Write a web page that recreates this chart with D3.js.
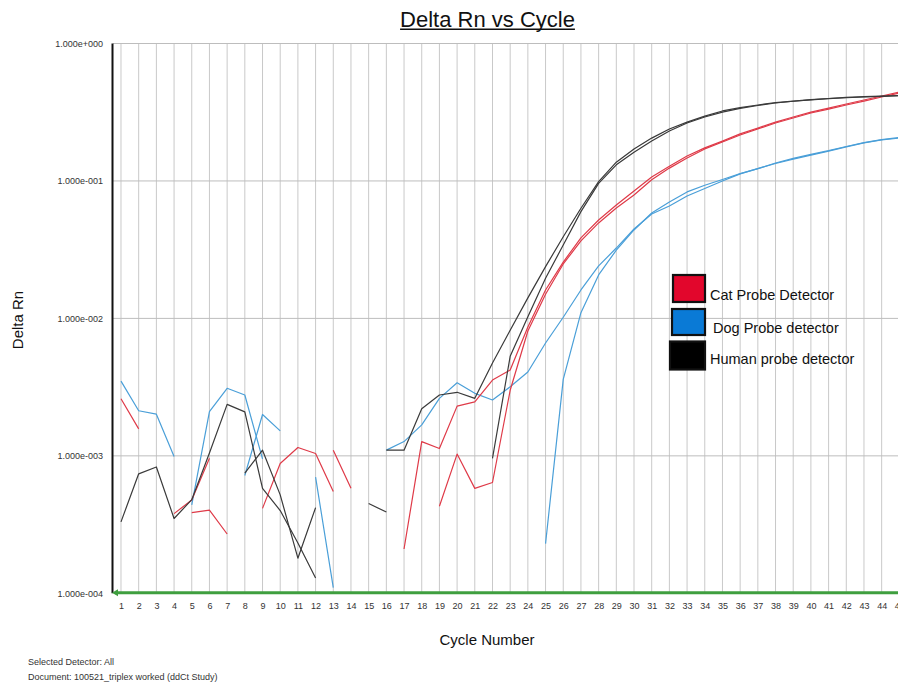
<!DOCTYPE html>
<html>
<head>
<meta charset="utf-8">
<script src="https://cdn.jsdelivr.net/npm/d3@7"></script>
<style>
  html, body { margin: 0; padding: 0; background: #fff; overflow: hidden; }
  svg { display: block; font-family: "Liberation Sans", Arial, sans-serif; }
</style>
</head>
<body>
<svg id="chart" width="898" height="688"></svg>
<script>
// ---- data: amplification plot, Delta Rn per cycle (null = not plottable on log axis)
const cycles = d3.range(1, 46);
const yTickValues = [1e-4, 1e-3, 1e-2, 1e-1, 1];
const yTickLabels = ["1.000e-004", "1.000e-003", "1.000e-002", "1.000e-001", "1.000e+000"];

const catProbe1 = [0.0026, 0.00157, null, 0.00038, 0.000477, 0.00096, null, null, 0.000415, 0.00088,
  0.00115, 0.00104, 0.00055, null, null, null, null, null, 0.00043, 0.00103,
  0.00058, 0.00064, 0.0030, 0.0081, 0.015, 0.0249, 0.0366, 0.0495, 0.0636, 0.079,
  0.102, 0.124, 0.147, 0.171, 0.192, 0.216, 0.239, 0.264, 0.287, 0.312,
  0.333, 0.357, 0.381, 0.408, 0.436];
const catProbe2 = [null, null, null, null, 0.000386, 0.000403, 0.00027, null, null, null,
  null, null, 0.0011, 0.00058, null, null, 0.00021, 0.00127, 0.00113, 0.0023,
  0.00247, 0.00356, 0.00421, 0.00866, 0.0161, 0.0257, 0.0385, 0.052, 0.0669, 0.0846,
  0.107, 0.128, 0.152, 0.174, 0.195, 0.220, 0.243, 0.268, 0.292, 0.317,
  0.339, 0.363, 0.388, 0.415, 0.443];
const dogProbe1 = [0.0035, 0.00213, 0.00201, 0.00099, null, null, null, 0.00072, 0.002, 0.00152,
  null, 0.0007, 0.00011, null, null, 0.0011, 0.00127, 0.00168, 0.00262, 0.0034,
  0.00285, 0.00255, 0.00318, 0.00407, 0.00662, 0.0102, 0.0161, 0.0241, 0.0325, 0.0447,
  0.0575, 0.0658, 0.0778, 0.0882, 0.1, 0.1125, 0.123, 0.134, 0.144, 0.154,
  0.165, 0.177, 0.189, 0.199, 0.205];
const dogProbe2 = [null, null, null, null, 0.00044, 0.0021, 0.0031, 0.00277, 0.00095, null,
  null, null, null, null, null, null, null, null, null, null,
  null, null, null, null, 0.00023, 0.0036, 0.011, 0.0207, 0.0314, 0.044,
  0.0585, 0.0704, 0.0832, 0.093, 0.1025, 0.113, 0.123, 0.135, 0.146, 0.156,
  0.166, 0.178, 0.19, 0.2, 0.207];
const humanProbe1 = [0.000331, 0.00074, 0.00083, 0.00035, 0.00048, 0.00105, 0.00237, 0.00209, 0.00058, 0.0004,
  0.000232, 0.000129, null, null, 0.00045, 0.00039, null, null, null, null,
  null, 0.00096, 0.0053, 0.0103, 0.0196, 0.0342, 0.0598, 0.096, 0.131, 0.162,
  0.195, 0.231, 0.264, 0.292, 0.317, 0.337, 0.354, 0.369, 0.38, 0.389,
  0.397, 0.403, 0.408, 0.413, 0.417];
const humanProbe2 = [null, null, null, null, null, null, null, 0.00075, 0.0011, 0.00052,
  0.00018, 0.00042, null, null, null, 0.0011, 0.0011, 0.0022, 0.00277, 0.0029,
  0.00262, 0.00474, 0.0082, 0.0141, 0.0238, 0.0393, 0.0633, 0.099, 0.137, 0.171,
  0.205, 0.239, 0.268, 0.296, 0.323, 0.342, 0.357, 0.372, 0.381, 0.391,
  0.398, 0.405, 0.41, 0.414, 0.418];

const legendLabels = ["Cat Probe Detector", "Dog Probe detector", "Human probe detector"];
const legendColors = ["#e2062c", "#0a7ad6", "#000000"];

const series = [
  { values: dogProbe1, color: "#4a9fd8" },
  { values: dogProbe2, color: "#4a9fd8" },
  { values: catProbe1, color: "#df3a48" },
  { values: catProbe2, color: "#df3a48" },
  { values: humanProbe1, color: "#3a3a3a" },
  { values: humanProbe2, color: "#3a3a3a" }
];

// ---- layout
const svg = d3.select("#chart");
const plotLeft = 113, plotTop = 43.5, plotBottom = 593.3;

const x = d3.scaleLinear().domain([0.548, 45.5]).range([plotLeft, plotLeft + 44.952 * 17.69]);
const y = d3.scaleLog().domain([1e-4, 1]).range([plotBottom, plotTop]);

svg.append("defs").append("clipPath").attr("id", "plotClip")
  .append("rect").attr("x", plotLeft).attr("y", plotTop - 1)
  .attr("width", 898 - plotLeft).attr("height", plotBottom - plotTop + 2);

// title
const title = svg.append("text")
  .attr("x", 487.5).attr("y", 26.7)
  .attr("text-anchor", "middle")
  .attr("font-size", 22).attr("fill", "#111")
  .text("Delta Rn vs Cycle");
const tw = title.node().getComputedTextLength();
svg.append("line")
  .attr("x1", 487.5 - tw / 2).attr("x2", 487.5 + tw / 2)
  .attr("y1", 29.3).attr("y2", 29.3)
  .attr("stroke", "#111").attr("stroke-width", 1.4);

// vertical grid (one per cycle)
svg.append("g").selectAll("line").data(cycles).join("line")
  .attr("x1", d => x(d)).attr("x2", d => x(d))
  .attr("y1", plotTop).attr("y2", plotBottom)
  .attr("stroke", "#c9c9c9").attr("stroke-width", 1);

// horizontal grid (decades)
svg.append("g").selectAll("line").data(yTickValues.slice(1)).join("line")
  .attr("x1", plotLeft).attr("x2", 898)
  .attr("y1", d => y(d)).attr("y2", d => y(d))
  .attr("stroke", "#bdbdbd").attr("stroke-width", 1);

// y axis tick labels
const yAxis = d3.axisLeft(y).tickValues(yTickValues)
  .tickFormat((d, i) => yTickLabels[i]).tickSize(0).tickPadding(10);
svg.append("g").attr("transform", `translate(${plotLeft},0)`).call(yAxis)
  .call(g => g.select(".domain").remove())
  .call(g => g.selectAll("text").attr("font-size", 9).attr("fill", "#333")
    .attr("font-family", "'Liberation Sans', Arial, sans-serif"));

// x axis tick labels
const xAxis = d3.axisBottom(x).tickValues(cycles).tickFormat(d3.format("d"))
  .tickSize(0).tickPadding(9);
svg.append("g").attr("transform", `translate(0,${plotBottom})`).call(xAxis)
  .call(g => g.select(".domain").remove())
  .call(g => g.selectAll("text").attr("font-size", 9).attr("fill", "#333")
    .attr("font-family", "'Liberation Sans', Arial, sans-serif"));

// amplification curves
const line = d3.line()
  .defined(d => d.v != null && d.v > 0)
  .x(d => x(d.c)).y(d => y(d.v));

svg.append("g").attr("clip-path", "url(#plotClip)")
  .selectAll("path").data(series).join("path")
  .attr("d", s => line(s.values.map((v, i) => ({ c: cycles[i], v }))))
  .attr("fill", "none")
  .attr("stroke", s => s.color)
  .attr("stroke-width", 1.2)
  .attr("stroke-linejoin", "round");

// left axis line
svg.append("line")
  .attr("x1", plotLeft - 0.5).attr("x2", plotLeft - 0.5)
  .attr("y1", plotTop).attr("y2", plotBottom)
  .attr("stroke", "#111").attr("stroke-width", 2);

// green baseline with arrowhead
svg.append("line")
  .attr("x1", plotLeft + 2).attr("x2", 898)
  .attr("y1", plotBottom - 0.5).attr("y2", plotBottom - 0.5)
  .attr("stroke", "#3f9f3f").attr("stroke-width", 3);
svg.append("path")
  .attr("d", `M${plotLeft - 1},${plotBottom - 0.5} L${plotLeft + 5},${plotBottom - 4} L${plotLeft + 5},${plotBottom + 3} Z`)
  .attr("fill", "#3f9f3f");

// axis titles
svg.append("text")
  .attr("x", 487).attr("y", 645)
  .attr("text-anchor", "middle").attr("font-size", 15).attr("fill", "#111")
  .text("Cycle Number");
svg.append("text")
  .attr("transform", "translate(23,320) rotate(-90)")
  .attr("text-anchor", "middle").attr("font-size", 15).attr("fill", "#111")
  .text("Delta Rn");

// footer
svg.append("text").attr("x", 28).attr("y", 665)
  .attr("font-size", 9).attr("fill", "#333").text("Selected Detector: All");
svg.append("text").attr("x", 28).attr("y", 680)
  .attr("font-size", 9).attr("fill", "#333").text("Document: 100521_triplex worked (ddCt Study)");

// legend
const legendBoxes = [
  { x: 673, y: 275, w: 32, h: 27 },
  { x: 672, y: 309, w: 33, h: 26 },
  { x: 670, y: 341.5, w: 35, h: 28 }
];
const legendText = [
  { x: 710, y: 299.5 },
  { x: 713, y: 333 },
  { x: 710, y: 363.5 }
];
const lg = svg.append("g");
lg.selectAll("rect").data(legendLabels).join("rect")
  .attr("x", (d, i) => legendBoxes[i].x).attr("y", (d, i) => legendBoxes[i].y)
  .attr("width", (d, i) => legendBoxes[i].w).attr("height", (d, i) => legendBoxes[i].h)
  .attr("fill", (d, i) => legendColors[i])
  .attr("stroke", "#111").attr("stroke-width", 2.2);
lg.selectAll("text").data(legendLabels).join("text")
  .attr("x", (d, i) => legendText[i].x).attr("y", (d, i) => legendText[i].y)
  .attr("font-size", 14.5).attr("fill", "#111")
  .text(d => d);
</script>
</body>
</html>
